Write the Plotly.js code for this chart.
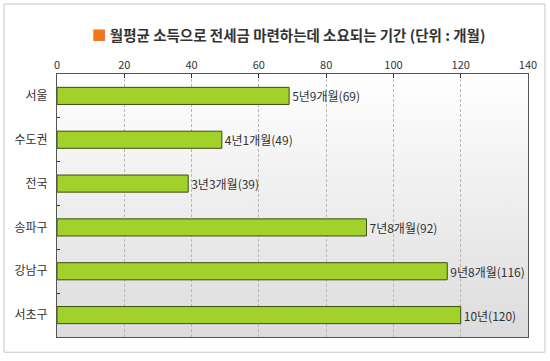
<!DOCTYPE html>
<html><head><meta charset="utf-8">
<script src="https://cdn.plot.ly/plotly-3.0.1.min.js"></script>
<style>body{margin:0;background:#fff}#c{width:550px;height:361px}</style>
</head><body><div id="c"></div>
<script>
var categories = ['서울','수도권','전국','송파구','강남구','서초구'];
var months = [69, 49, 39, 92, 116, 120];
var labels = ['5년9개월(69)','4년1개월(49)','3년3개월(39)','7년8개월(92)','9년8개월(116)','10년(120)'];
var xTicks = [0,20,40,60,80,100,120,140];

var bg = 'data:image/svg+xml;utf8,' + encodeURIComponent(
 '<svg xmlns="http://www.w3.org/2000/svg" width="100" height="100" preserveAspectRatio="none"><defs><linearGradient id="g" x1="0" y1="0" x2="0" y2="1"><stop offset="0" stop-color="#ffffff"/><stop offset="1" stop-color="#dcdcdc"/></linearGradient></defs><rect width="100" height="100" fill="url(#g)"/></svg>');

var font = 'Noto Sans CJK KR, sans-serif';
var trace = {
  type: 'bar', orientation: 'h',
  y: categories, x: months,
  text: labels, textposition: 'outside', cliponaxis: false,
  textfont: {family: font, size: 12, color: '#333'},
  width: 0.39,
  marker: {color: '#a2d12c', line: {color: '#3e4d12', width: 1}},
  hoverinfo: 'none'
};
var layout = {
  width: 550, height: 361,
  margin: {l: 57, r: 22, t: 74, b: 24},
  paper_bgcolor: '#fff', plot_bgcolor: 'rgba(0,0,0,0)',
  showlegend: false,
  title: {text: '<span style="color:#f07818">■</span> <b>월평균 소득으로 전세금 마련하는데 소요되는 기간 (단위 : 개월)</b>',
          font: {family: font, size: 14.5, color: '#333'}, x: 0.525, xanchor: 'center', y: 0.9, yanchor: 'middle'},
  xaxis: {side: 'top', range: [0, 140], tickvals: xTicks, ticktext: xTicks.map(String),
          showgrid: true, gridcolor: '#b8b8b8', griddash: '3px,2px', gridwidth: 1,
          ticks: 'inside', ticklen: 4, tickcolor: '#333',
          tickfont: {family: font, size: 11, color: '#333'},
          showline: true, linecolor: '#555', mirror: true, zeroline: false, fixedrange: true},
  yaxis: {autorange: 'reversed', tickson: 'boundaries', ticks: 'inside', ticklen: 3, tickcolor: '#333',
          tickfont: {family: font, size: 12, color: '#333'}, ticklabelstandoff: 6,
          showline: true, linecolor: '#555', mirror: true, showgrid: false, fixedrange: true},
  images: [{source: bg, xref: 'paper', yref: 'paper', x: 0, y: 1, sizex: 1, sizey: 1,
            sizing: 'stretch', xanchor: 'left', yanchor: 'top', layer: 'below'}],
  shapes: [{type: 'rect', xref: 'paper', yref: 'paper', x0: -0.1125, x1: 1.036, y0: -0.058, y1: 1.266,
            line: {color: '#c8c8c8', width: 1}, fillcolor: 'rgba(0,0,0,0)'}]
};
Plotly.newPlot('c', [trace], layout, {staticPlot: true});
</script></body></html>
